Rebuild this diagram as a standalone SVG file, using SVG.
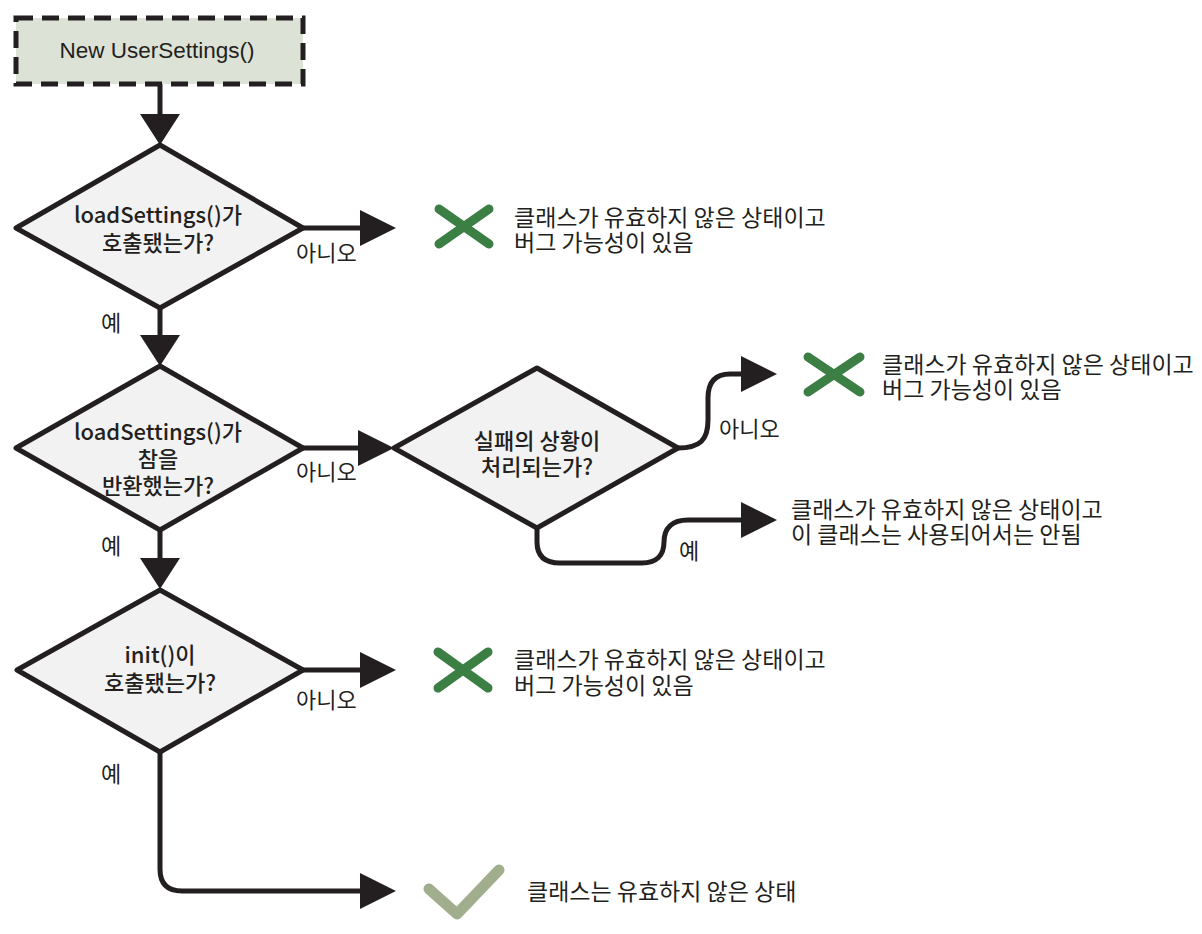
<svg xmlns="http://www.w3.org/2000/svg" width="1202" height="934" viewBox="0 0 1202 934">
<defs>
<style>
.dia{fill:#f2f2f2;stroke:#231f20;stroke-width:5;stroke-linejoin:round}
.con{fill:none;stroke:#231f20;stroke-width:5}
.dt{font-family:"Noto Sans CJK KR","Noto Sans",sans-serif;font-size:22px;font-weight:500;fill:#231f20;text-anchor:middle}
.lb{font-family:"Noto Sans CJK KR","Noto Sans",sans-serif;font-size:22px;fill:#231f20}
.bt{font-family:"Noto Sans CJK KR","Noto Sans",sans-serif;font-size:23px;fill:#231f20}
.x{stroke:#3b7f45;stroke-width:9;stroke-linecap:round;fill:none}
</style>
<marker id="ah" viewBox="0 0 36 36" markerWidth="36" markerHeight="36" refX="0" refY="18" orient="auto" markerUnits="userSpaceOnUse"><path d="M0,0 L36,18 L0,36 Z" fill="#231f20"/></marker>
<marker id="av" viewBox="0 0 31 40" markerWidth="31" markerHeight="40" refX="0" refY="20" orient="auto" markerUnits="userSpaceOnUse"><path d="M0,0 L31,20 L0,40 Z" fill="#231f20"/></marker>
</defs>
<rect width="1202" height="934" fill="#ffffff"/>
<g id="connectors">
<path class="con" d="M160,84 V114" marker-end="url(#av)"/>
<path class="con" d="M303,228 H360" marker-end="url(#ah)"/>
<path class="con" d="M160,308 V335" marker-end="url(#av)"/>
<path class="con" d="M303,448 H358" marker-end="url(#ah)"/>
<path class="con" d="M678,448 C700,448 708,440 708,420 V398 C708,381 716,374 730,374 H741" marker-end="url(#ah)"/>
<path class="con" d="M537,528 V542 C537,556 545,563 560,563 H642 C656,563 664,556 664,542 C664,528 672,520 688,520 H741" marker-end="url(#ah)"/>
<path class="con" d="M160,530 V558" marker-end="url(#av)"/>
<path class="con" d="M303,670 H360" marker-end="url(#ah)"/>
<path class="con" d="M160,752 V869 Q160,891 182,891 H360" marker-end="url(#ah)"/>
<text class="lb" x="296" y="261">아니오</text>
<text class="lb" x="101" y="331">예</text>
<text class="lb" x="296" y="480">아니오</text>
<text class="lb" x="101" y="554">예</text>
<text class="lb" x="719" y="437">아니오</text>
<text class="lb" x="679" y="559">예</text>
<text class="lb" x="296" y="708">아니오</text>
<text class="lb" x="101" y="782">예</text>
</g>
<g id="start">
<rect x="16" y="18" width="287" height="66" fill="#dde2d7" stroke="#231f20" stroke-width="5" stroke-dasharray="17,9"/>
<text x="157" y="58" font-family="Liberation Sans,Arial,sans-serif" font-size="22.5" fill="#231f20" text-anchor="middle">New UserSettings()</text>
</g>
<g id="d1">
<path class="dia" d="M160,145 L303,228 L160,308 L16,228 Z"/>
<text class="dt" x="158" y="223">loadSettings()가</text>
<text class="dt" x="158" y="251">호출됐는가?</text>
</g>
<g id="d2">
<path class="dia" d="M160,366 L303,448 L160,530 L16,448 Z"/>
<text class="dt" x="158" y="440">loadSettings()가</text>
<text class="dt" x="158" y="467">참을</text>
<text class="dt" x="158" y="494">반환했는가?</text>
</g>
<g id="d3">
<path class="dia" d="M537,368 L678,448 L537,528 L394,448 Z"/>
<text class="dt" x="537" y="449">실패의 상황이</text>
<text class="dt" x="537" y="475">처리되는가?</text>
</g>
<g id="d4">
<path class="dia" d="M160,590 L303,670 L160,752 L17,670 Z"/>
<text class="dt" x="160" y="663">init()이</text>
<text class="dt" x="160" y="691">호출됐는가?</text>
</g>
<g id="r1">
<path class="x" d="M439,209 L489,244 M439,244 L489,209"/>
<text class="bt" x="514" y="226">클래스가 유효하지 않은 상태이고</text>
<text class="bt" x="514" y="251">버그 가능성이 있음</text>
</g>
<g id="r2">
<path class="x" d="M808,357 L860,392 M808,392 L860,357"/>
<text class="bt" x="882" y="373">클래스가 유효하지 않은 상태이고</text>
<text class="bt" x="882" y="398">버그 가능성이 있음</text>
</g>
<g id="r3">
<text class="bt" x="791" y="518">클래스가 유효하지 않은 상태이고</text>
<text class="bt" x="791" y="543">이 클래스는 사용되어서는 안됨</text>
</g>
<g id="r4">
<path class="x" d="M438,652 L488,688 M438,688 L488,652"/>
<text class="bt" x="514" y="668">클래스가 유효하지 않은 상태이고</text>
<text class="bt" x="514" y="694">버그 가능성이 있음</text>
</g>
<g id="r5">
<path d="M429,889 L457,914 L499,870" fill="none" stroke="#a1ae8e" stroke-width="11" stroke-linecap="round" stroke-linejoin="round"/>
<text class="bt" x="527" y="900">클래스는 유효하지 않은 상태</text>
</g>
</svg>
